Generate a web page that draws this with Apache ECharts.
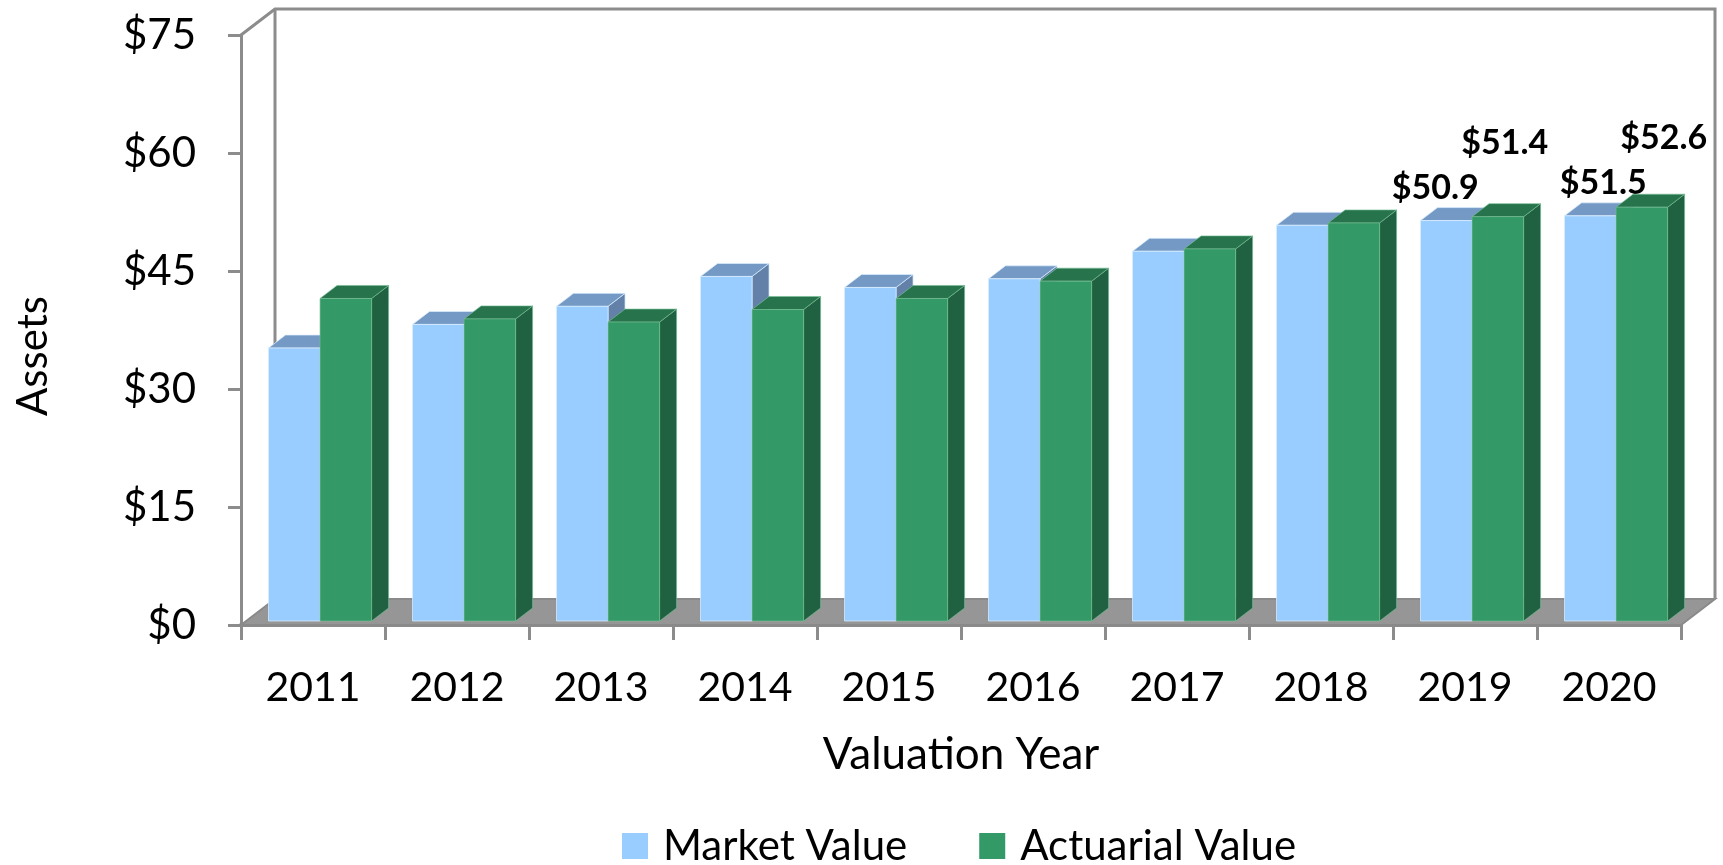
<!DOCTYPE html>
<html>
<head>
<meta charset="utf-8">
<script src="https://cdn.jsdelivr.net/npm/echarts@6/dist/echarts.min.js"></script>
<style>
html,body{margin:0;padding:0;background:#fff;}
#chart{width:1723px;height:865px;}
</style>
</head>
<body>
<div id="chart"></div>
<script>
// ---- data ----
const years = ['2011','2012','2013','2014','2015','2016','2017','2018','2019','2020'];
const marketValue = [34.7, 37.7, 40.0, 43.8, 42.4, 43.5, 47.0, 50.3, 50.9, 51.5];
const actuarialValue = [41.0, 38.4, 38.0, 39.6, 41.0, 43.2, 47.3, 50.6, 51.4, 52.6];
const seriesNames = ['Market Value', 'Actuarial Value'];
const labeledYears = ['2019', '2020'];
const yMin = 0, yMax = 75, yInterval = 15;

// ---- style ----
const FONT = 'Lato, "Open Sans", sans-serif';
const palette = [
  {front: '#99CCFF', top: '#7399C4', side: '#6381A8', edge: 'rgba(220,238,255,0.9)'},
  {front: '#339966', top: '#26734C', side: '#1F6140', edge: 'rgba(120,190,150,0.8)'}
];
const BAR_DEPTH = [17, -13];
const WALL_DEPTH = [34, -26];
const BASE_LIFT = 4;
const GRID_LINE = '#8c8c8c';
// label offsets (relative to top-centre of front face), per series / year
const labelOffsets = {
  0: {'2019': [-11, -33], '2020': [13, -33]},
  1: {'2019': [7, -74], '2020': [22, -69]}
};

function makeBarRender(sIdx) {
  const pal = palette[sIdx];
  return function (params, api) {
    const i = api.value(0);
    const v = api.value(1);
    const p0 = api.coord([i, 0]);
    const p1 = api.coord([i, v]);
    const bw = api.size([1, 0])[0];
    const edgeX = p0[0] + 0.049 * bw;
    const barW = 0.358 * bw;
    const left = sIdx === 0 ? edgeX - barW : edgeX;
    const right = left + barW;
    const base = p0[1] - BASE_LIFT;
    const top = p1[1] - BASE_LIFT;
    const dx = BAR_DEPTH[0], dy = BAR_DEPTH[1];
    const children = [
      {type: 'polygon', shape: {points: [[right, top], [right + dx, top + dy], [right + dx, base + dy], [right, base]]},
        style: {fill: pal.side, stroke: pal.edge, lineWidth: 0.8}},
      {type: 'polygon', shape: {points: [[left, top], [right, top], [right + dx, top + dy], [left + dx, top + dy]]},
        style: {fill: pal.top, stroke: pal.edge, lineWidth: 0.8}},
      {type: 'rect', shape: {x: left, y: top, width: barW, height: base - top},
        style: {fill: pal.front, stroke: pal.edge, lineWidth: 0.8}}
    ];
    const yr = years[i];
    if (labeledYears.indexOf(yr) >= 0) {
      const off = (labelOffsets[sIdx] && labelOffsets[sIdx][yr]) || [0, -30];
      children.push({
        type: 'text',
        style: {
          text: '$' + v.toFixed(1),
          x: (left + right) / 2 + off[0],
          y: top + off[1],
          align: 'center', verticalAlign: 'middle',
          font: 'bold 34px ' + FONT, fill: '#000'
        },
        z2: 100
      });
    }
    return {type: 'group', children: children};
  };
}

function renderFrame(params, api) {
  const cs = params.coordSys;
  const x0 = cs.x, x1 = cs.x + cs.width, yb = cs.y + cs.height, yt = cs.y;
  const dx = WALL_DEPTH[0], dy = WALL_DEPTH[1];
  const lineStyle = {stroke: GRID_LINE, lineWidth: 3, fill: null};
  return {
    type: 'group',
    children: [
      {type: 'polygon', shape: {points: [[x0, yb], [x1, yb], [x1 + dx, yb + dy], [x0 + dx, yb + dy]]},
        style: {fill: '#969696', stroke: '#8a8a8a', lineWidth: 2}},
      {type: 'polyline', shape: {points: [[x0, yt], [x0 + dx, yt + dy], [x1 + dx, yt + dy], [x1 + dx, yb + dy]]}, style: lineStyle},
      {type: 'line', shape: {x1: x0 + dx, y1: yt + dy, x2: x0 + dx, y2: yb + dy}, style: lineStyle}
    ]
  };
}

const chart = echarts.init(document.getElementById('chart'));
const option = {
  backgroundColor: '#ffffff',
  animation: false,
  grid: {left: 241, right: 42, top: 35, bottom: 240, containLabel: false},
  legend: {
    data: seriesNames,
    top: 820,
    left: 617,
    icon: 'rect',
    itemWidth: 26, itemHeight: 26,
    itemGap: 72,
    textStyle: {fontFamily: FONT, fontSize: 42, color: '#000', padding: [0, 0, 0, 10]}
  },
  xAxis: {
    type: 'category',
    data: years,
    axisLine: {show: true, lineStyle: {color: GRID_LINE, width: 4}},
    axisTick: {show: true, length: 15, lineStyle: {color: GRID_LINE, width: 3}},
    axisLabel: {fontFamily: FONT, fontSize: 41, color: '#000', margin: 42},
    name: 'Valuation Year',
    nameLocation: 'middle',
    nameGap: 108,
    nameTextStyle: {fontFamily: FONT, fontSize: 44, color: '#000'},
    splitLine: {show: false}
  },
  yAxis: {
    type: 'value',
    min: yMin, max: yMax, interval: yInterval,
    axisLine: {show: true, lineStyle: {color: GRID_LINE, width: 3}},
    axisTick: {show: true, length: 13, lineStyle: {color: GRID_LINE, width: 3}},
    axisLabel: {fontFamily: FONT, fontSize: 42, color: '#000', margin: 45, formatter: v => '$' + v},
    splitLine: {show: false}
  },
  graphic: [{
    type: 'text', left: 12, top: 296, rotation: Math.PI / 2,
    style: {text: 'Assets', font: '42px ' + FONT, fill: '#000'}
  }],
  series: [
    {type: 'custom', name: '__frame', data: [[0, 0]], renderItem: renderFrame, z: 1, silent: true},
    {type: 'custom', name: seriesNames[0], data: years.map((y, i) => [i, marketValue[i]]),
      renderItem: makeBarRender(0), itemStyle: {color: palette[0].front}, z: 2},
    {type: 'custom', name: seriesNames[1], data: years.map((y, i) => [i, actuarialValue[i]]),
      renderItem: makeBarRender(1), itemStyle: {color: palette[1].front}, z: 3}
  ]
};
chart.setOption(option);
</script>
</body>
</html>
